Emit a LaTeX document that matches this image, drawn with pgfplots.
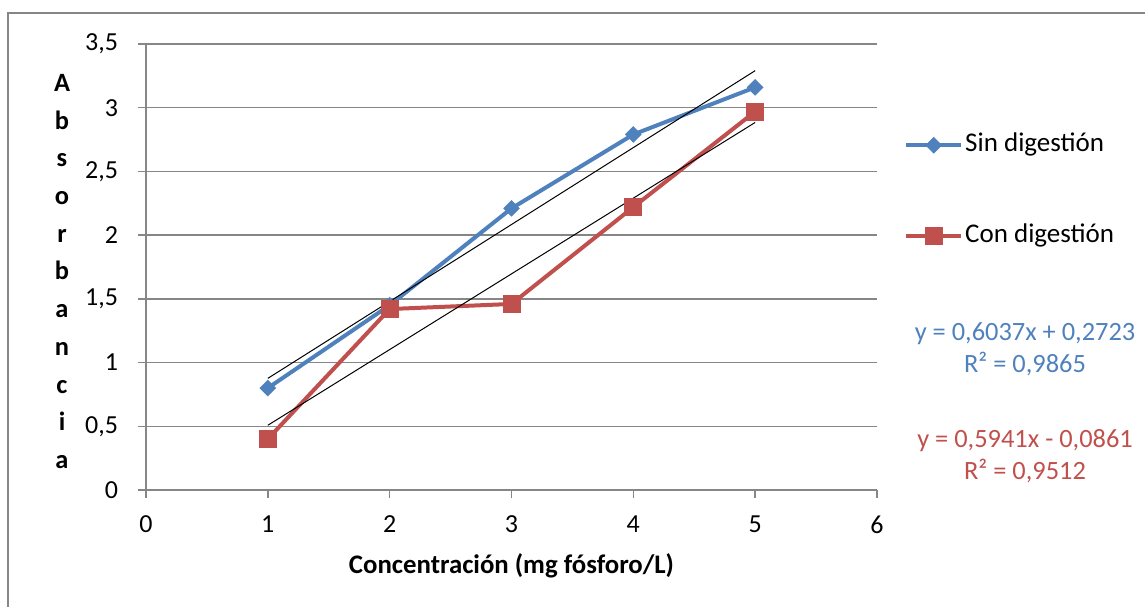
\documentclass[border=0pt]{standalone}
\usepackage{fontspec}
\setmainfont{Carlito}
\usepackage{pgfplots}
\pgfplotsset{compat=1.18}
\definecolor{sinblue}{HTML}{4F81BD}
\definecolor{conred}{HTML}{C0504D}
\definecolor{gridgray}{HTML}{868686}
\begin{document}
\begin{tikzpicture}
\useasboundingbox (0,0) rectangle (572.5pt,303pt);
\draw[gridgray, line width=0.75pt] (4pt,-5pt) -- (4pt,296.5pt) -- (580pt,296.5pt);
\begin{axis}[
  at={(73pt,58pt)}, anchor=south west,
  scale only axis, width=365.5pt, height=223pt,
  xmin=0, xmax=6, ymin=0, ymax=3.5,
  xtick={0,1,2,3,4,5,6},
  ytick={0,0.5,1,1.5,2,2.5,3,3.5},
  axis x line=bottom, axis y line=left,
  axis line style={-, gridgray, line width=0.75pt},
  ymajorgrids, major grid style={gridgray, line width=0.75pt},
  tick align=outside, major tick length=4pt,
  tick style={gridgray, line width=0.75pt},
  /pgf/number format/.cd, use comma, 1000 sep={}, assume math mode=true, /pgfplots/.cd,
  tick label style={font=\fontsize{13}{15.6}\selectfont, text=black},
  xticklabel style={yshift=-5.5pt},
  yticklabel style={xshift=-6.5pt},
  xlabel={Concentración (mg fósforo/L)},
  xlabel style={font=\fontsize{13.4}{16}\selectfont\bfseries, at={(axis description cs:0.5,0)}, anchor=center, yshift=-38pt},
  ylabel={A\\b\\s\\o\\r\\b\\a\\n\\c\\i\\a},
  ylabel style={rotate=-90, align=center, font=\fontsize{13.2}{18.85}\selectfont\bfseries, at={(axis description cs:0,0.49)}, anchor=center, xshift=-42pt},
  clip=false,
  legend style={draw=none, fill=none, at={(rel axis cs:1.0367,0.671)}, anchor=west, inner sep=0pt,
    font=\fontsize{13.5}{16}\selectfont, row sep=33.5pt,
    nodes={text height=9pt, text depth=3pt, inner ysep=0pt, inner xsep=1pt}},
  legend cell align=left,
  legend image code/.code={\draw[mark repeat=2, mark phase=2] plot coordinates {(0pt,0pt) (13.75pt,0pt) (27.5pt,0pt)};},
]
\addplot[sinblue, line width=2pt, mark=square*, mark size=2.7pt, mark options={rotate=45, fill=sinblue, line width=0.5pt}]
  coordinates {(1,0.80) (2,1.45) (3,2.21) (4,2.79) (5,3.16)};
\addlegendentry{Sin digestión}
\addplot[conred, line width=2pt, mark=square*, mark size=4.25pt, mark options={fill=conred, line width=0.5pt}]
  coordinates {(1,0.40) (2,1.42) (3,1.46) (4,2.22) (5,2.97)};
\addlegendentry{Con digestión}
\addplot[black, line width=0.5pt, forget plot] coordinates {(1,0.876) (5,3.2908)};
\addplot[black, line width=0.5pt, forget plot] coordinates {(1,0.508) (5,2.8844)};
\node[sinblue, align=center, font=\fontsize{13.2}{16}\selectfont] at (rel axis cs:1.2025,0.315) {y = 0,6037x + 0,2723\\R² = 0,9865};
\node[conred, align=center, font=\fontsize{13.2}{16}\selectfont] at (rel axis cs:1.2025,0.076) {y = 0,5941x - 0,0861\\R² = 0,9512};
\end{axis}
\end{tikzpicture}
\end{document}
